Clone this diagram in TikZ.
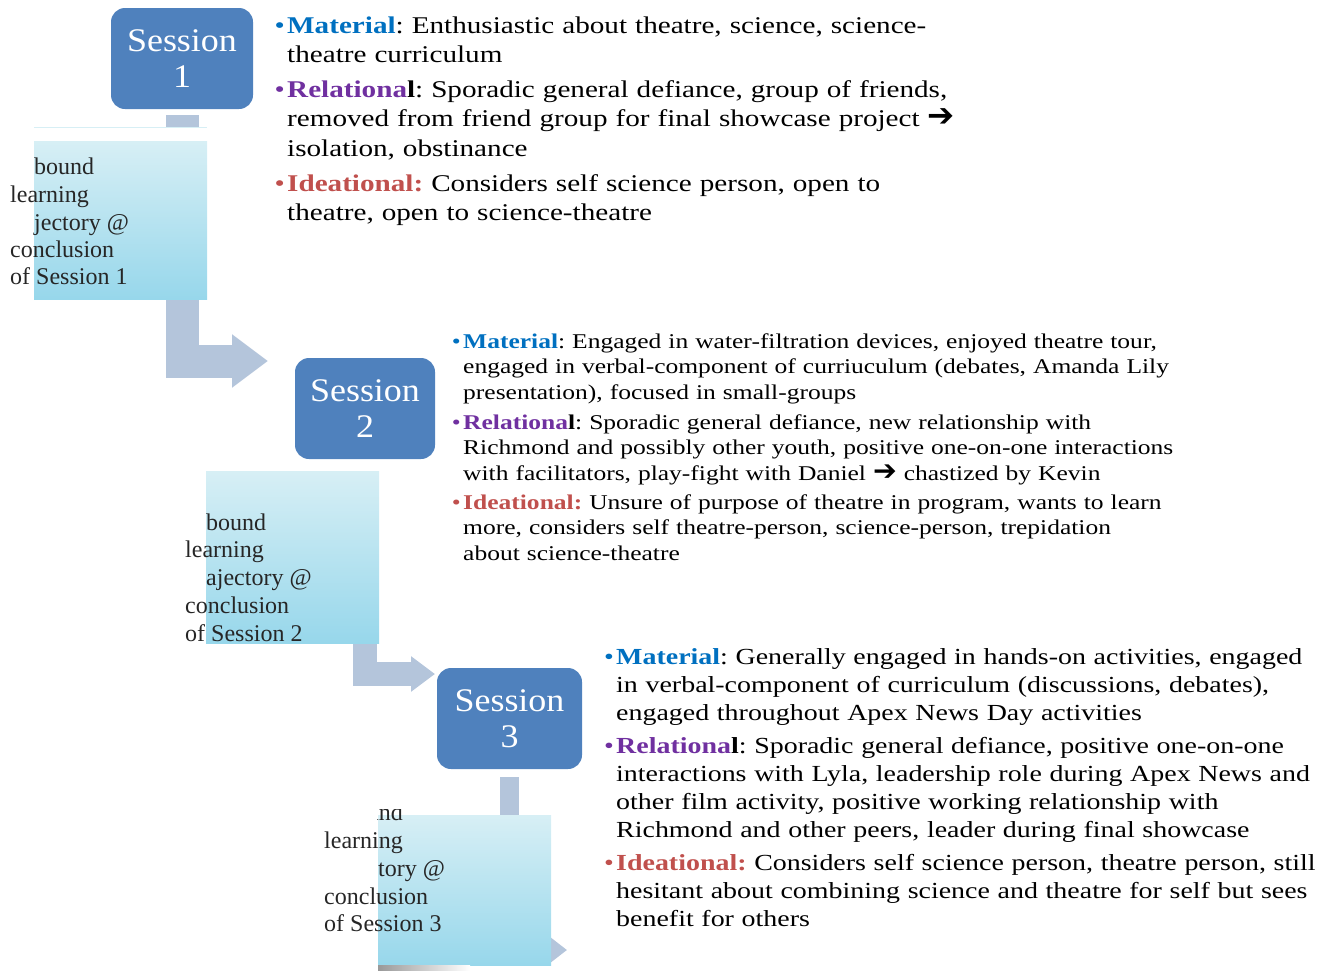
\documentclass[tikz,border=0pt]{standalone}
\usepackage{fontspec}
\usepackage{graphicx}
\setmainfont{Liberation Serif}
\newfontfamily\notefont[FakeStretch=1.215]{Liberation Serif}
\newfontfamily\sessfont[FakeStretch=1.09]{Liberation Serif}
\newfontfamily\arrowfont{DejaVu Sans}
\usetikzlibrary{positioning,arrows.meta}

\definecolor{sessblue}{HTML}{4F81BD}
\definecolor{barblue}{HTML}{B4C5DB}
\definecolor{topcyan}{HTML}{D7EFF5}
\definecolor{botcyan}{HTML}{97D7EB}
\definecolor{matblue}{HTML}{0070C0}
\definecolor{relpurple}{HTML}{7030A0}
\definecolor{idered}{HTML}{C0504D}

\newcommand{\matlabel}{\textcolor{matblue}{\textbf{Material}}}
\newcommand{\rellabel}{\textcolor{relpurple}{\textbf{Relationa}}\textbf{l}}
\newcommand{\idelabel}{\textcolor{idered}{\textbf{Ideational:}}}
\newcommand{\thenarrow}{\scalebox{1.35}{\arrowfont\bfseries ➔}}

\tikzset{
  session/.style={rounded corners=14pt, fill=sessblue, text=white, align=center,
    minimum width=142pt, minimum height=101pt, inner sep=0pt,
    font=\sessfont\fontsize{33}{36}\selectfont},
  trajbox/.style={top color=topcyan, bottom color=botcyan, anchor=north west,
    minimum width=173pt, inner sep=0pt},
  trajline/.style={anchor=base west, inner sep=0pt, text=black!85,
    font=\fontsize{24}{27}\selectfont},
  bar/.style={draw=barblue, line join=miter},
  item/.style={anchor=base west, inner sep=0pt, text width=760pt, align=left},
  dot/.style={anchor=base east, inner sep=0pt, xshift=-2pt},
  big/.style={font=\notefont\frenchspacing\fontsize{24}{29.5}\selectfont},
  mid/.style={font=\notefont\frenchspacing\fontsize{21}{25.5}\selectfont},
  std/.style={font=\notefont\frenchspacing\fontsize{23}{28}\selectfont}
}

\begin{document}
\begin{tikzpicture}[x=1pt,y=-1pt]
\useasboundingbox (0,0) rectangle (1333,970);

% session boxes
\node[session] (s1) at (182,58.5) {Session\\1};
\node[session, minimum width=140pt] (s2) at (365,408.5) {Session\\2};
\node[session, minimum width=145pt] (s3) at (509.5,718.5) {Session\\3};

% bent arrows, behind the side boxes
\coordinate (a1) at (268,361);
\coordinate (a2) at (435,674);
\coordinate (a3) at (567,950);
\draw[bar, line width=33pt, -{Triangle[length=36pt,width=51pt]}]
  ([yshift=-6pt]s1.south) |- (a1);
\draw[bar, line width=24pt, -{Triangle[length=24pt,width=34pt]}]
  (365,480) |- (a2);
\draw[bar, line width=19pt, -{Triangle[length=19pt,width=28pt]}]
  ([yshift=-8pt]s3.south) |- (a3);

% side boxes
\fill[white] (34,127) rectangle (207,141);
\draw[topcyan] (34,127) -- (207,127);
\node[trajbox, minimum height=158pt] (t1) at (34,141) {};
\node[trajbox, minimum height=172pt] (t2) at (206,471) {};
\node[trajbox, minimum height=150pt] (t3) at (378,815) {};
\shade[left color=black!40, right color=white] (378,965) rectangle (470,970);

\node[trajline] (t1a) at (34,174) {bound};
\node[trajline] (t1b) at (10,202) {learning};
\node[trajline] (t1c) at (34,230) {jectory @};
\node[trajline] (t1d) at (10,257) {conclusion};
\node[trajline] (t1e) at (10,284) {of Session 1};

\node[trajline] (t2a) at (206,530) {bound};
\node[trajline] (t2b) at (185,557) {learning};
\node[trajline] (t2c) at (206,585) {ajectory @};
\node[trajline] (t2d) at (185,613) {conclusion};
\node[trajline] (t2e) at (185,641) {of Session 2};

\begin{scope}
\clip (377,809) rectangle (430,830);
\node[trajline] (t3a) at (368,820) {and};
\end{scope}
\node[trajline] (t3b) at (324,848) {learning};
\node[trajline] (t3c) at (378,876) {tory @};
\node[trajline] (t3d) at (324,904) {conclusion};
\node[trajline] (t3e) at (324,931) {of Session 3};

% session 1 notes
\node[item, big] (m1) at (287,33) {\matlabel: Enthusiastic about theatre, science, science-\\theatre curriculum};
\node[item, big] (r1) at (287,97) {\rellabel: Sporadic general defiance, group of friends,\\removed from friend group for final showcase project \thenarrow\\isolation, obstinance};
\node[item, big] (i1) at (287,191) {\idelabel\ Considers self science person, open to\\theatre, open to science-theatre};
\node[dot, big, text=matblue] at (m1.base west) {\textbullet};
\node[dot, big, text=relpurple] at (r1.base west) {\textbullet};
\node[dot, big, text=idered] at (i1.base west) {\textbullet};

% session 2 notes
\node[item, mid] (m2) at (463,348) {\matlabel: Engaged in water-filtration devices, enjoyed theatre tour,\\engaged in verbal-component of curriuculum (debates, Amanda Lily\\presentation), focused in small-groups};
\node[item, mid] (r2) at (463,429) {\rellabel: Sporadic general defiance, new relationship with\\Richmond and possibly other youth, positive one-on-one interactions\\with facilitators, play-fight with Daniel \thenarrow\ chastized by Kevin};
\node[item, mid] (i2) at (463,509) {\idelabel\ Unsure of purpose of theatre in program, wants to learn\\more, considers self theatre-person, science-person, trepidation\\about science-theatre};
\node[dot, mid, text=matblue] at (m2.base west) {\textbullet};
\node[dot, mid, text=relpurple] at (r2.base west) {\textbullet};
\node[dot, mid, text=idered] at (i2.base west) {\textbullet};

% session 3 notes
\node[item, std] (m3) at (616,664) {\matlabel: Generally engaged in hands-on activities, engaged\\in verbal-component of curriculum (discussions, debates),\\engaged throughout Apex News Day activities};
\node[item, std] (r3) at (616,753) {\rellabel: Sporadic general defiance, positive one-on-one\\interactions with Lyla, leadership role during Apex News and\\other film activity, positive working relationship with\\Richmond and other peers, leader during final showcase};
\node[item, std] (i3) at (616,870) {\idelabel\ Considers self science person, theatre person, still\\hesitant about combining science and theatre for self but sees\\benefit for others};
\node[dot, std, text=matblue] at (m3.base west) {\textbullet};
\node[dot, std, text=relpurple] at (r3.base west) {\textbullet};
\node[dot, std, text=idered] at (i3.base west) {\textbullet};
\end{tikzpicture}
\end{document}
